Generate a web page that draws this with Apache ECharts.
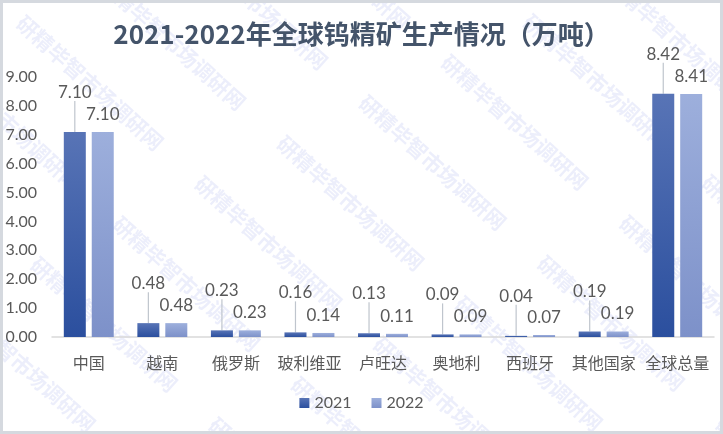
<!DOCTYPE html>
<html>
<head>
<meta charset="utf-8">
<script src="https://cdn.jsdelivr.net/npm/echarts@6/dist/echarts.min.js"></script>
<style>
html,body{margin:0;padding:0;background:#fff;}
#chart{width:723px;height:434px;}
</style>
</head>
<body>
<div id="chart"></div>
<script>
const titleText = '2021-2022年全球钨精矿生产情况（万吨）';
const categories = ['中国','越南','俄罗斯','玻利维亚','卢旺达','奥地利','西班牙','其他国家','全球总量'];
const seriesNames = ['2021','2022'];
const values2021 = [7.10,0.48,0.23,0.16,0.13,0.09,0.04,0.19,8.42];
const values2022 = [7.10,0.48,0.23,0.14,0.11,0.09,0.07,0.19,8.41];
const watermarkText = '研精毕智市场调研网';

const W = 723, H = 434;
const latin = "Lato, 'Noto Sans CJK SC', sans-serif";
const cjk = "'Noto Sans CJK SC', Lato, sans-serif";

// watermark lattice (text runs down-right)
const ang = 42 * Math.PI / 180;
const d = [Math.cos(ang), Math.sin(ang)];
const up = [Math.sin(ang), -Math.cos(ang)];
const marks = [];
const base = [90, 83];
for (let k = -6; k <= 8; k++) {
  for (let m = -4; m <= 4; m++) {
    const along = m * 240 + k * 34;
    const perp = k * 85;
    const cx = base[0] + along * d[0] + perp * up[0];
    const cy = base[1] + along * d[1] + perp * up[1];
    if (cx < -120 || cx > W + 120 || cy < -120 || cy > H + 120) continue;
    marks.push({
      type: 'text', x: cx, y: cy, rotation: -ang, z: -10, silent: true,
      style: { text: watermarkText, fill: 'rgba(110,120,225,0.13)', font: "bold 21px 'Noto Sans CJK SC'", align: 'center', verticalAlign: 'middle' }
    });
  }
}

const chart = echarts.init(document.getElementById('chart'), null, {renderer: 'canvas'});
chart.setOption({
  backgroundColor: '#ffffff',
  animation: false,
  title: {
    text: titleText, left: 'center', top: 16,
    textStyle: { fontFamily: cjk, fontSize: 26, fontWeight: 'bold', color: '#44546a' }
  },
  legend: {
    data: seriesNames, bottom: 18, left: 'center',
    itemWidth: 10, itemHeight: 10, itemGap: 20, icon: 'rect',
    textStyle: { fontFamily: latin, fontSize: 16, color: '#595959' }
  },
  grid: { left: 52, right: 9, top: 77, bottom: 97, containLabel: false },
  xAxis: {
    type: 'category', data: categories,
    axisLine: { lineStyle: { color: '#d9d9d9', width: 1.5 } },
    axisTick: { show: false },
    axisLabel: { fontFamily: cjk, fontSize: 16, color: '#595959', margin: 18, interval: 0 }
  },
  yAxis: {
    type: 'value', min: 0, max: 9, interval: 1,
    axisLine: { show: false }, axisTick: { show: false },
    splitLine: { show: false },
    axisLabel: { fontFamily: latin, fontSize: 16, color: '#595959', margin: 15,
      formatter: v => v.toFixed(2) }
  },
  series: [
    {
      name: seriesNames[0], type: 'bar', data: values2021,
      barWidth: 22, barGap: '27%',
      itemStyle: { color: new echarts.graphic.LinearGradient(0,0,0,1,[{offset:0,color:'#5874b6'},{offset:1,color:'#2b4f9e'}]) },
      label: { show: true, position: 'top', distance: 9, fontFamily: latin, fontSize: 17, color: '#595959',
        formatter: p => p.value.toFixed(2) },
      labelLayout: { dy: -22 },
      labelLine: { show: true, lineStyle: { color: '#bfc5cd', width: 1.2 } }
    },
    {
      name: seriesNames[1], type: 'bar', data: values2022,
      barWidth: 22,
      itemStyle: { color: new echarts.graphic.LinearGradient(0,0,0,1,[{offset:0,color:'#9dafdc'},{offset:1,color:'#7d91c9'}]) },
      label: { show: true, position: 'top', distance: 9, fontFamily: latin, fontSize: 17, color: '#595959',
        formatter: p => p.value.toFixed(2) }
    }
  ],
  color: ['#2f55a4', '#8fa2d6'],
  graphic: marks.concat([{
    type: 'rect', z: 100, silent: true,
    shape: { x: 1.5, y: 1.5, width: W - 3, height: H - 3 },
    style: { fill: 'none', stroke: '#d5d9df', lineWidth: 3 }
  }])
});
</script>
</body>
</html>
